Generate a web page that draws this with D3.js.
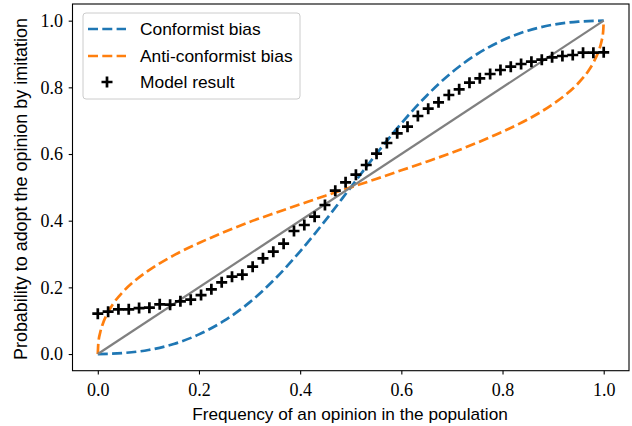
<!DOCTYPE html>
<html><head><meta charset="utf-8">
<script src="https://cdn.jsdelivr.net/npm/d3@7"></script>
<style>body{margin:0;background:#fff}svg{display:block}</style>
</head><body>
<svg id="c" width="632" height="426"></svg>
<script>
// ---- data ----
const xTicks = [0.0, 0.2, 0.4, 0.6, 0.8, 1.0];
const yTicks = [0.0, 0.2, 0.4, 0.6, 0.8, 1.0];
const xTickLabels = ["0.0", "0.2", "0.4", "0.6", "0.8", "1.0"];
const yTickLabels = ["0.0", "0.2", "0.4", "0.6", "0.8", "1.0"];

const conformX = [0, 0.05, 0.1, 0.15, 0.2, 0.25, 0.3, 0.35, 0.4, 0.45, 0.5, 0.55, 0.6, 0.65, 0.7, 0.75, 0.8, 0.85, 0.9, 0.95, 1.0];
const conformY = [0, 0.003, 0.012, 0.030, 0.059, 0.100, 0.155, 0.225, 0.308, 0.401, 0.5, 0.599, 0.692, 0.775, 0.845, 0.900, 0.941, 0.970, 0.988, 0.997, 1.0];

const antiX = [0, 0.001, 0.005, 0.01, 0.02, 0.03, 0.05, 0.075, 0.1, 0.15, 0.2, 0.25, 0.3, 0.35, 0.4, 0.45, 0.5, 0.55, 0.6, 0.65, 0.7, 0.75, 0.8, 0.85, 0.9, 0.925, 0.95, 0.97, 0.98, 0.99, 0.995, 0.999, 1.0];
const antiY = [0, 0.031, 0.066, 0.091, 0.125, 0.150, 0.187, 0.222, 0.250, 0.296, 0.333, 0.366, 0.396, 0.423, 0.449, 0.475, 0.5, 0.525, 0.551, 0.577, 0.604, 0.634, 0.667, 0.704, 0.750, 0.778, 0.813, 0.850, 0.875, 0.909, 0.934, 0.969, 1.0];

const diagX = [0, 1];
const diagY = [0, 1];

const modelX = [0.0000, 0.0204, 0.0408, 0.0612, 0.0816, 0.1020, 0.1224, 0.1429, 0.1633, 0.1837,
                0.2041, 0.2245, 0.2449, 0.2653, 0.2857, 0.3061, 0.3265, 0.3469, 0.3673, 0.3878,
                0.4082, 0.4286, 0.4490, 0.4694, 0.4898, 0.5102, 0.5306, 0.5510, 0.5714, 0.5918,
                0.6122, 0.6327, 0.6531, 0.6735, 0.6939, 0.7143, 0.7347, 0.7551, 0.7755, 0.7959,
                0.8163, 0.8367, 0.8571, 0.8776, 0.8980, 0.9184, 0.9388, 0.9592, 0.9796, 1.0000];
const modelY = [0.121, 0.127, 0.134, 0.134, 0.138, 0.139, 0.149, 0.148, 0.158, 0.163,
                0.177, 0.194, 0.215, 0.232, 0.238, 0.262, 0.287, 0.307, 0.331, 0.369,
                0.387, 0.412, 0.447, 0.490, 0.515, 0.538, 0.567, 0.601, 0.633, 0.662,
                0.682, 0.714, 0.736, 0.755, 0.777, 0.794, 0.814, 0.827, 0.840, 0.852,
                0.862, 0.870, 0.877, 0.883, 0.890, 0.894, 0.897, 0.904, 0.904, 0.905];

const legendLabels = ["Conformist bias", "Anti-conformist bias", "Model result"];
const xLabel = "Frequency of an opinion in the population";
const yLabel = "Probability to adopt the opinion by imitation";

// ---- drawing ----
const svg = d3.select("#c");
const L = 72.5, R = 629, T = 4, B = 370.7;
const x = d3.scaleLinear().domain([-0.05, 1.05]).range([L, R]);
const y = d3.scaleLinear().domain([-0.05, 1.05]).range([B, T]);

const BLUE = "#1f77b4", ORANGE = "#ff7f0e", GRAY = "#808080";
const SANS = "'Liberation Sans', Arial, sans-serif";
const SERIF = "'Liberation Serif', 'DejaVu Serif', serif";
const DASH = "10,4.3", LW = 2.7;

function pts(xs, ys) { return xs.map((v, i) => [v, ys[i]]); }
const line = d3.line().x(d => x(d[0])).y(d => y(d[1])).curve(d3.curveMonotoneX);

const plot = svg.append("g");
plot.append("path").datum(pts(conformX, conformY)).attr("d", line)
  .attr("fill", "none").attr("stroke", BLUE).attr("stroke-width", LW).attr("stroke-dasharray", DASH);
plot.append("path").datum(pts(antiX, antiY)).attr("d", line)
  .attr("fill", "none").attr("stroke", ORANGE).attr("stroke-width", LW).attr("stroke-dasharray", DASH);
plot.append("path").datum(pts(diagX, diagY)).attr("d", d3.line().x(d => x(d[0])).y(d => y(d[1])))
  .attr("fill", "none").attr("stroke", GRAY).attr("stroke-width", 2.2);

const cross = "M-5.5,0H5.5M0,-5.5V5.5";
plot.selectAll(".m").data(pts(modelX, modelY)).enter().append("path")
  .attr("d", cross).attr("transform", d => `translate(${x(d[0])},${y(d[1])})`)
  .attr("stroke", "#000").attr("stroke-width", 2.7).attr("fill", "none");

// frame
svg.append("rect").attr("x", L).attr("y", T).attr("width", R - L).attr("height", B - T)
  .attr("fill", "none").attr("stroke", "#000").attr("stroke-width", 1.1);

// axes
const xAxis = d3.axisBottom(x).tickValues(xTicks).tickSize(3.8).tickPadding(5)
  .tickFormat((d, i) => xTickLabels[i]);
const yAxis = d3.axisLeft(y).tickValues(yTicks).tickSize(3.8).tickPadding(5)
  .tickFormat((d, i) => yTickLabels[i]);
const gx = svg.append("g").attr("transform", `translate(0,${B})`).call(xAxis);
const gy = svg.append("g").attr("transform", `translate(${L},0)`).call(yAxis);
[gx, gy].forEach(g => {
  g.select(".domain").remove();
  g.selectAll(".tick line").attr("stroke", "#000").attr("stroke-width", 1.1);
  g.selectAll(".tick text").attr("font-family", SERIF).attr("font-size", 18).attr("fill", "#000");
});
gx.selectAll(".tick text").attr("dy", null).attr("y", 25.8);
gy.selectAll(".tick text").attr("dy", "0.33em").attr("x", -9.5);

// fit helper
function fit(sel, target) {
  const w = sel.node().getComputedTextLength();
  const fs = parseFloat(sel.attr("font-size"));
  sel.attr("font-size", (fs * target / w).toFixed(2));
}

const xl = svg.append("text").attr("x", 350).attr("y", 419.5).attr("text-anchor", "middle")
  .attr("font-family", SANS).attr("font-size", 16).attr("fill", "#000").text(xLabel);
fit(xl, 316);
const yl = svg.append("text").attr("transform", "translate(26.5,189) rotate(-90)").attr("text-anchor", "middle")
  .attr("font-family", SANS).attr("font-size", 16).attr("fill", "#000").text(yLabel);
fit(yl, 342);

// legend
const lg = svg.append("g");
lg.append("rect").attr("x", 83).attr("y", 13).attr("width", 217).attr("height", 86).attr("rx", 3)
  .attr("fill", "#fff").attr("fill-opacity", 0.8).attr("stroke", "#cccccc").attr("stroke-width", 1);
const rows = [29, 56, 82];
lg.append("line").attr("x1", 88).attr("x2", 126).attr("y1", rows[0]).attr("y2", rows[0])
  .attr("stroke", BLUE).attr("stroke-width", LW).attr("stroke-dasharray", DASH);
lg.append("line").attr("x1", 88).attr("x2", 126).attr("y1", rows[1]).attr("y2", rows[1])
  .attr("stroke", ORANGE).attr("stroke-width", LW).attr("stroke-dasharray", DASH);
lg.append("path").attr("d", cross).attr("transform", `translate(107,${rows[2]})`)
  .attr("stroke", "#000").attr("stroke-width", 2.7).attr("fill", "none");
const lt = legendLabels.map((s, i) => lg.append("text").attr("x", 140).attr("y", rows[i] + 5.5)
  .attr("font-family", SANS).attr("font-size", 16).attr("fill", "#000").text(s));
const w1 = lt[1].node().getComputedTextLength();
const lfs = (16 * 152.7 / w1).toFixed(2);
lt.forEach(t => t.attr("font-size", lfs));
</script>
</body></html>
